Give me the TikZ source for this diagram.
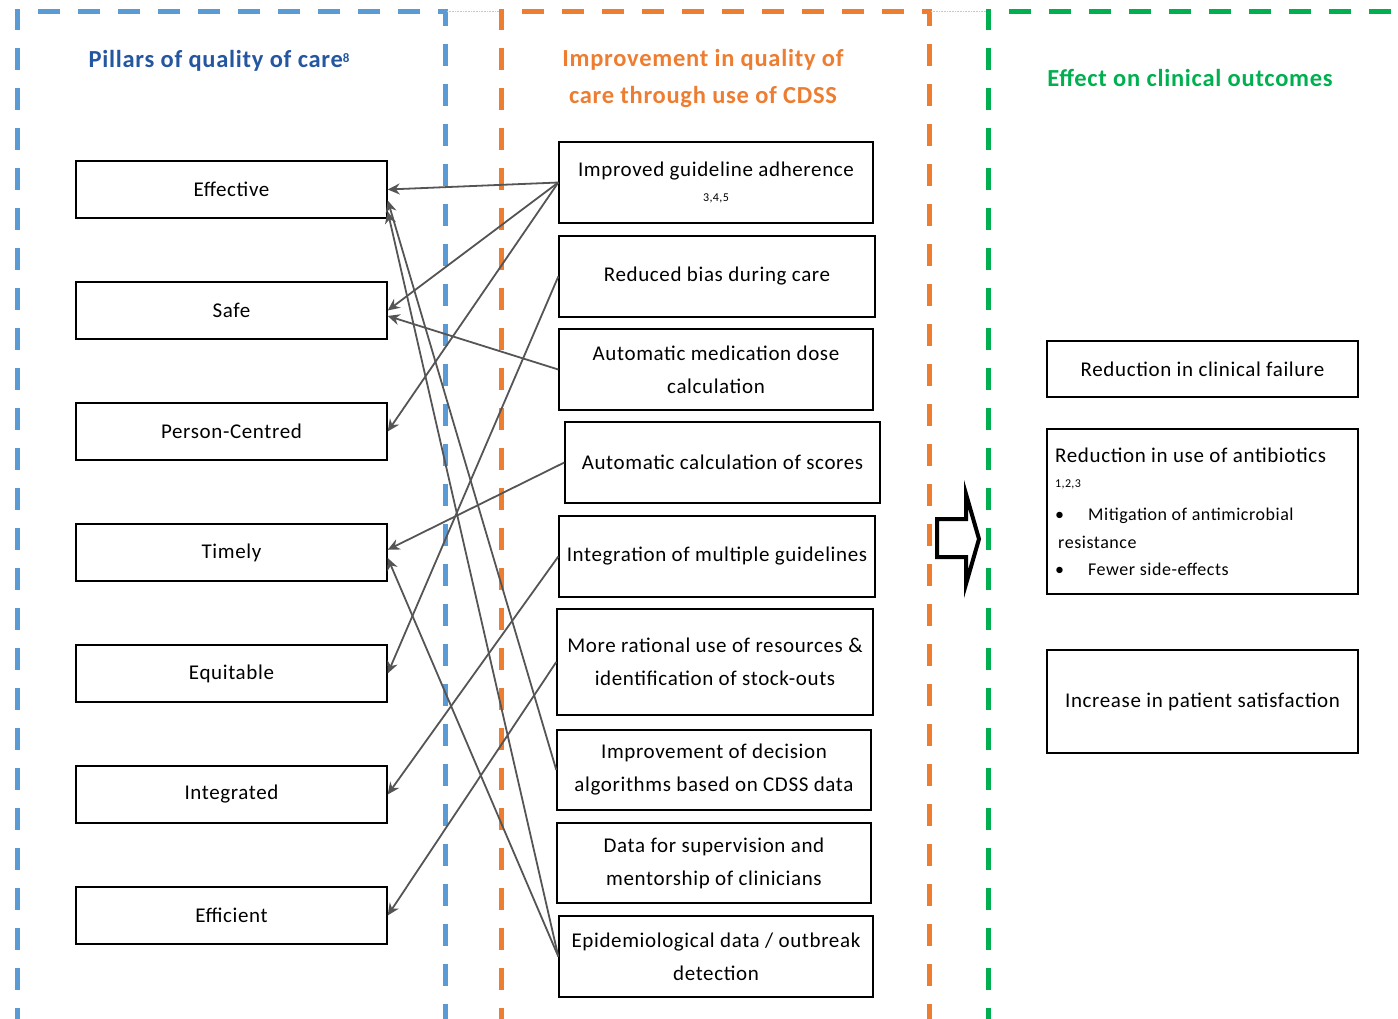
\documentclass[tikz,border=0pt]{standalone}
\usepackage{fontspec}
\setmainfont{Carlito}[LetterSpace=3]
\usetikzlibrary{arrows.meta}
\definecolor{pillarblue}{RGB}{91,155,213}
\definecolor{titleblue}{RGB}{36,87,160}
\definecolor{cdssorange}{RGB}{237,125,49}
\definecolor{outcomegreen}{RGB}{0,176,80}
\definecolor{linkgray}{RGB}{85,85,85}
\newcommand{\reffont}{\fontsize{12}{14}\selectfont}

\begin{document}
\begin{tikzpicture}[x=1pt,y=-1pt,font=\fontsize{21}{33}\selectfont,
  frame/.style={line width=5pt,dash pattern=on 22pt off 18pt},
  headline/.style={font=\fontsize{24.5}{37}\selectfont\bfseries,align=center},
  pillar/.style={draw,line width=1.4pt,minimum width=311pt,minimum height=57pt,inner sep=0pt},
  gain/.style={draw,line width=1.4pt,minimum height=81pt,inner sep=0pt,align=center},
  outcome/.style={draw,line width=1.4pt,minimum width=311pt,inner sep=0pt,align=center},
  link/.style={draw=linkgray,line width=1.8pt,-{Stealth[length=12pt,width=11pt]}}]
  \useasboundingbox (0,0) rectangle (1398,1018);
  % dashed columns
  \draw[frame,pillarblue] (17,1030) -- (17,11) -- (445,11) -- (445,1030);
  \draw[frame,cdssorange] (501,1030) -- (501,11) -- (929,11) -- (929,1030);
  \draw[frame,outcomegreen] (988,1030) -- (988,11) -- (1410,11);
  \draw[densely dotted,line width=0.6pt,pillarblue!50] (447,11) -- (499,11) (931,11) -- (986,11);
  % headings
  \node[headline,text=titleblue] (headpillar) at (219,61) {Pillars of quality of care\raisebox{5pt}{\fontsize{13}{14}\selectfont 8}};
  \node[headline,text=cdssorange] (headcdss) at (703,78) {Improvement in quality of\\care through use of CDSS};
  \node[headline,text=outcomegreen] (headeffect) at (1190,78) {Effect on clinical outcomes};
  % pillars
  \node[pillar] (eff) at (231.5,189.5) {Effective};
  \node[pillar] (safe) at (231.5,310.5) {Safe};
  \node[pillar] (pcent) at (231.5,431.5) {Person-Centred};
  \node[pillar] (timely) at (231.5,552.5) {Timely};
  \node[pillar] (equit) at (231.5,673.5) {Equitable};
  \node[pillar] (integ) at (231.5,794.5) {Integrated};
  \node[pillar] (effic) at (231.5,915.5) {Efficient};
  % CDSS gains
  \node[gain,minimum width=314pt] (adher) at (716,182.5) {Improved guideline adherence\\[-8pt]{\reffont 3,4,5}};
  \node[gain,minimum width=316pt] (bias) at (717,276.5) {Reduced bias during care};
  \node[gain,minimum width=314pt] (dose) at (716,369.5) {Automatic medication dose\\calculation};
  \node[gain,minimum width=315pt] (scores) at (722.5,462.5) {Automatic calculation of scores};
  \node[gain,minimum width=316pt] (multi) at (717,556.5) {Integration of multiple guidelines};
  \node[gain,minimum width=316pt,minimum height=106pt] (resour) at (715,662) {More rational use of resources \&\\identification of stock-outs};
  \node[gain,minimum width=314pt,minimum height=80pt] (algor) at (714,770) {Improvement of decision\\algorithms based on CDSS data};
  \node[gain,minimum width=314pt,minimum height=80pt] (superv) at (714,863) {Data for supervision and\\mentorship of clinicians};
  \node[gain,minimum width=314pt] (epid) at (716,956.5) {Epidemiological data / outbreak\\detection};
  % links
  \draw[link] (adher.west) -- (eff.east);
  \draw[link] (adher.west) -- (safe.east);
  \draw[link] (adher.west) -- (pcent.east);
  \draw[link] (bias.west) -- (equit.east);
  \draw[link] (dose.west) -- (safe.-2);
  \draw[link] (scores.west) -- (timely.1);
  \draw[link] (multi.west) -- (integ.east);
  \draw[link] (resour.west) -- (effic.east);
  \draw[link] (algor.west) -- (eff.-4);
  \draw[link] (epid.west) -- (eff.-8);
  \draw[link] (epid.west) -- (timely.-2);
  % big arrow
  \draw[line width=4pt,line join=miter,fill=white] (937,519) -- (966,519) -- (966,494) -- (979,539) -- (966,584) -- (966,557) -- (937,557) -- cycle;
  % outcomes
  \node[outcome,minimum height=56pt] (fail) at (1202.5,369) {Reduction in clinical failure};
  \node[outcome,minimum height=165pt] (abx) at (1202.5,511.5) {};
  \node[anchor=base west,inner sep=0pt] (abxhead) at (1055,462) {Reduction in use of antibiotics};
  \node[anchor=base west,inner sep=0pt,font=\reffont] (abxref) at (1055,487) {1,2,3};
  \node[anchor=north west,inner sep=0pt,align=left,font=\fontsize{18}{27.5}\selectfont] (abxlist) at (1055,508) {\textbullet\hspace{24pt}Mitigation of antimicrobial\\\hspace{3pt}resistance\\\textbullet\hspace{24pt}Fewer side-effects};
  \node[outcome,minimum height=103pt] (satis) at (1202.5,701.5) {Increase in patient satisfaction};
\end{tikzpicture}
\end{document}
